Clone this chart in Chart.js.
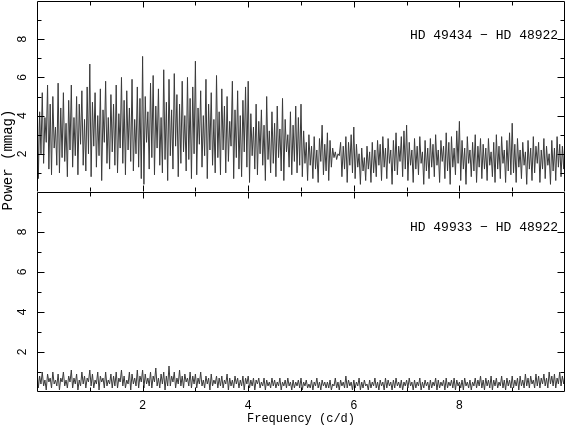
<!DOCTYPE html>
<html>
<head>
<meta charset="utf-8">
<script src="https://cdn.jsdelivr.net/npm/chart.js@4.4.1/dist/chart.umd.min.js"></script>
<style>
  html, body { margin: 0; padding: 0; background: #fff; }
  #wrap { position: relative; width: 566px; height: 427px; overflow: hidden; }
  canvas { position: absolute; left: 0; }
  #ylab {
    position: absolute; left: -92px; top: 152px; width: 200px; height: 16px;
    line-height: 16px; text-align: center;
    font: 14px "Liberation Mono", monospace; color: #000;
    transform: rotate(-90deg); transform-origin: 50% 50%;
  }
</style>
</head>
<body>
<div id="wrap">
  <canvas id="top-panel" width="566" height="192" style="top:0"></canvas>
  <canvas id="bot-panel" width="566" height="236" style="top:191px"></canvas>
  <div id="ylab">Power (mmag)</div>
</div>
<script>
// Frequency grid of the periodograms (c/d)
const FREQ_START = 0;
const FREQ_STEP = 0.025;

// HD 49434 − HD 48922, power in mmag, one row = 0.5 c/d
const POWER_49434 = [
  6.1, 0.7, 4.2, 2.0, 5.2, 1.5, 3.9, 2.6, 5.6, 1.2, 4.6, 0.9, 5.0, 2.3, 3.4, 1.4, 5.7, 1.0, 4.4, 1.8,
  5.2, 1.6, 3.6, 0.8, 4.8, 2.2, 5.6, 1.3, 3.9, 1.9, 5.0, 0.9, 4.6, 2.5, 5.3, 1.4, 3.8, 1.1, 5.5, 2.0,
  6.7, 0.8, 4.7, 2.4, 5.2, 1.3, 4.0, 1.9, 5.4, 0.6, 4.3, 2.6, 5.8, 1.5, 3.9, 1.2, 5.1, 2.1, 4.6, 1.4,
  5.6, 1.0, 4.1, 2.3, 6.0, 1.5, 4.8, 0.9, 5.3, 2.2, 4.4, 1.6, 5.9, 1.1, 3.8, 2.0, 5.5, 1.3, 4.9, 0.7,
  7.1, 0.4, 5.0, 2.6, 4.2, 1.2, 5.7, 1.8, 6.1, 0.9, 4.5, 2.3, 5.4, 1.4, 3.9, 1.0, 6.4, 1.7, 4.7, 0.6,
  5.9, 1.9, 4.3, 1.2, 6.2, 2.4, 5.1, 0.8, 4.6, 1.5, 5.8, 2.1, 4.0, 1.1, 6.0, 1.7, 4.9, 0.7, 5.5, 2.0,
  6.85, 0.9, 4.4, 2.5, 5.3, 1.3, 4.0, 1.9, 5.9, 0.7, 4.6, 2.2, 5.2, 1.4, 3.8, 1.0, 6.1, 1.8, 4.2, 0.9,
  5.4, 2.2, 4.5, 1.0, 5.0, 1.6, 3.7, 2.4, 5.8, 0.7, 4.3, 1.8, 5.3, 1.2, 4.0, 0.8, 4.8, 2.1, 5.5, 1.3,
  5.8, 0.5, 4.1, 1.9, 3.4, 1.2, 4.6, 0.9, 3.7, 2.0, 4.3, 1.4, 3.5, 0.6, 5.0, 1.7, 3.2, 1.0, 4.2, 1.5,
  3.6, 0.8, 4.5, 1.8, 3.3, 1.1, 4.9, 0.6, 3.8, 2.1, 3.0, 1.3, 4.2, 0.9, 3.5, 1.6, 4.5, 1.0, 3.9, 1.4,
  4.6, 0.8, 3.2, 1.5, 2.6, 0.6, 3.0, 1.4, 2.4, 0.7, 2.9, 1.2, 2.2, 0.5, 2.8, 1.6, 3.5, 0.9, 2.5, 1.1,
  3.1, 0.6, 2.7, 1.3, 2.3, 1.8, 2.1, 1.7, 2.0, 1.9, 2.6, 0.8, 2.4, 1.2, 2.9, 0.5, 2.6, 1.4, 3.0, 1.0,
  3.4, 0.7, 2.5, 1.3, 2.0, 0.4, 2.3, 1.1, 1.8, 0.6, 2.4, 1.2, 2.1, 0.5, 2.6, 1.0, 2.2, 0.8, 2.7, 1.4,
  2.5, 0.6, 2.9, 1.3, 2.3, 0.7, 2.8, 1.5, 2.2, 0.4, 2.7, 1.1, 3.1, 0.9, 2.4, 1.6, 2.9, 0.8, 3.2, 1.2,
  3.5, 0.6, 2.6, 1.4, 2.2, 0.5, 2.8, 1.2, 2.4, 0.9, 2.9, 1.5, 2.1, 0.4, 2.7, 1.1, 2.3, 0.7, 2.8, 1.3,
  2.5, 0.8, 3.0, 1.4, 2.2, 0.5, 2.7, 1.6, 2.4, 0.7, 3.1, 1.1, 2.6, 0.4, 2.9, 1.3, 2.3, 0.9, 3.2, 1.5,
  3.7, 0.6, 2.7, 1.2, 2.3, 0.4, 2.9, 1.5, 2.2, 0.8, 2.6, 1.1, 3.0, 0.5, 2.4, 1.3, 2.8, 0.7, 2.5, 1.2,
  2.3, 0.6, 2.8, 1.4, 2.1, 0.8, 2.6, 0.5, 3.0, 1.2, 2.4, 0.7, 2.9, 1.5, 2.2, 0.5, 2.7, 1.1, 3.1, 0.9,
  3.6, 1.0, 2.5, 0.5, 2.8, 1.3, 2.2, 0.7, 2.6, 1.4, 2.1, 0.4, 2.7, 1.2, 2.3, 0.6, 2.9, 1.0, 2.4, 1.5,
  2.6, 0.5, 2.2, 1.2, 2.8, 0.7, 2.4, 1.4, 2.0, 0.4, 2.7, 1.1, 2.3, 0.6, 2.9, 1.3, 2.5, 0.8, 2.4, 1.2,
  3.1
];

// HD 49933 − HD 48922
const POWER_49933 = [
  1.2, 0.2, 0.8, 0.4, 1.0, 0.3, 0.6, 0.1, 0.9, 0.5, 0.7, 0.2, 1.0, 0.4, 0.6, 0.3, 0.9, 0.1, 0.7, 0.5,
  1.0, 0.3, 0.6, 0.2, 0.8, 0.5, 1.1, 0.2, 0.7, 0.4, 0.9, 0.1, 0.6, 0.3, 1.0, 0.4, 0.8, 0.2, 0.7, 0.5,
  1.1, 0.3, 0.9, 0.2, 0.6, 0.4, 1.0, 0.1, 0.8, 0.5, 0.7, 0.2, 1.0, 0.3, 0.6, 0.4, 0.9, 0.2, 0.8, 0.3,
  1.0, 0.2, 0.7, 0.5, 1.1, 0.3, 0.8, 0.2, 0.6, 0.4, 1.0, 0.1, 0.9, 0.4, 0.7, 0.3, 1.1, 0.2, 0.8, 0.5,
  1.1, 0.2, 0.9, 0.4, 0.7, 0.3, 1.0, 0.2, 0.8, 0.5, 1.2, 0.3, 0.7, 0.2, 0.9, 0.4, 1.0, 0.1, 0.8, 0.3,
  1.3, 0.3, 0.8, 0.5, 1.0, 0.2, 0.7, 0.4, 1.1, 0.3, 0.8, 0.2, 0.9, 0.5, 0.7, 0.3, 1.0, 0.2, 0.8, 0.4,
  0.9, 0.2, 0.7, 0.4, 1.0, 0.3, 0.6, 0.2, 0.8, 0.4, 0.7, 0.1, 0.9, 0.3, 0.6, 0.4, 0.8, 0.2, 0.7, 0.3,
  0.8, 0.2, 0.6, 0.4, 0.9, 0.1, 0.7, 0.3, 0.6, 0.2, 0.8, 0.4, 0.7, 0.2, 0.6, 0.3, 0.8, 0.1, 0.7, 0.4,
  0.8, 0.2, 0.6, 0.3, 0.7, 0.1, 0.6, 0.4, 0.7, 0.2, 0.5, 0.3, 0.7, 0.1, 0.6, 0.3, 0.5, 0.2, 0.7, 0.3,
  0.6, 0.2, 0.5, 0.3, 0.7, 0.1, 0.5, 0.3, 0.6, 0.2, 0.7, 0.3, 0.5, 0.1, 0.6, 0.2, 0.5, 0.3, 0.6, 0.2,
  0.7, 0.1, 0.5, 0.3, 0.6, 0.2, 0.4, 0.2, 0.6, 0.1, 0.5, 0.3, 0.7, 0.2, 0.5, 0.1, 0.6, 0.3, 0.5, 0.2,
  0.5, 0.2, 0.6, 0.1, 0.4, 0.3, 0.7, 0.2, 0.5, 0.1, 0.6, 0.3, 0.5, 0.2, 0.8, 0.2, 0.6, 0.3, 0.5, 0.1,
  0.6, 0.2, 0.5, 0.3, 0.7, 0.1, 0.5, 0.2, 0.6, 0.3, 0.4, 0.1, 0.6, 0.2, 0.5, 0.3, 0.7, 0.2, 0.5, 0.1,
  0.6, 0.3, 0.5, 0.1, 0.7, 0.2, 0.6, 0.3, 0.5, 0.1, 0.6, 0.2, 0.7, 0.3, 0.5, 0.2, 0.6, 0.1, 0.5, 0.3,
  0.6, 0.2, 0.7, 0.3, 0.5, 0.1, 0.6, 0.2, 0.5, 0.3, 0.7, 0.1, 0.5, 0.2, 0.6, 0.3, 0.5, 0.1, 0.6, 0.2,
  0.5, 0.3, 0.7, 0.1, 0.6, 0.2, 0.5, 0.3, 0.6, 0.1, 0.7, 0.2, 0.5, 0.3, 0.6, 0.2, 0.7, 0.1, 0.6, 0.3,
  0.5, 0.2, 0.6, 0.1, 0.7, 0.3, 0.5, 0.2, 0.6, 0.1, 0.5, 0.3, 0.7, 0.2, 0.6, 0.3, 0.8, 0.2, 0.6, 0.1,
  0.7, 0.3, 0.6, 0.2, 0.8, 0.1, 0.6, 0.3, 0.7, 0.2, 0.5, 0.3, 0.8, 0.2, 0.6, 0.1, 0.7, 0.3, 0.6, 0.2,
  0.8, 0.2, 0.6, 0.3, 0.7, 0.1, 0.8, 0.3, 0.6, 0.2, 0.9, 0.3, 0.7, 0.2, 0.8, 0.4, 0.6, 0.2, 0.9, 0.3,
  0.8, 0.2, 0.7, 0.4, 0.9, 0.3, 0.7, 0.2, 1.0, 0.4, 0.8, 0.3, 0.9, 0.2, 0.7, 0.4, 1.0, 0.3, 0.8, 0.4,
  0.9
];

const PANEL_LABELS = ['HD 49434 \u2212 HD 48922', 'HD 49933 \u2212 HD 48922'];
const X_TICKS = [1, 2, 3, 4, 5, 6, 7, 8, 9];
const Y_TICKS = [1, 2, 3, 4, 5, 6, 7, 8, 9];
const Y_TICK_LABELS = [2, 4, 6, 8];
const FONT = '"Liberation Mono", monospace';

function toPoints(values) {
  return values.map((v, i) => ({ x: FREQ_START + i * FREQ_STEP, y: v }));
}

// Box + inward ticks on all four sides, sideways y labels, panel caption
const framePlugin = {
  id: 'frame',
  afterDraw(chart, args, opts) {
    const { ctx, chartArea: a, scales: { x, y } } = chart;
    const L = a.left + 0.5, R = a.right - 0.5, T = a.top + 0.5, B = a.bottom - 0.5;
    ctx.save();
    ctx.lineWidth = 1;
    ctx.strokeStyle = '#000';
    ctx.beginPath();
    ctx.moveTo(L, B); ctx.lineTo(L, T); ctx.lineTo(R, T); ctx.lineTo(R, B);
    if (opts.bottom) { ctx.moveTo(L, B); ctx.lineTo(R, B); }
    X_TICKS.forEach(v => {
      const px = Math.round(x.getPixelForValue(v)) + 0.5;
      const len = v % 2 === 0 ? 6 : 4;
      ctx.moveTo(px, T); ctx.lineTo(px, T + len);
      ctx.moveTo(px, B); ctx.lineTo(px, B - len);
    });
    Y_TICKS.forEach(v => {
      const py = Math.round(y.getPixelForValue(v)) + 0.5;
      const len = v % 2 === 0 ? 7 : 4;
      ctx.moveTo(L, py); ctx.lineTo(L + len, py);
      ctx.moveTo(R, py); ctx.lineTo(R - len, py);
    });
    ctx.stroke();

    ctx.fillStyle = '#000';
    ctx.textAlign = 'center';
    ctx.textBaseline = 'middle';
    ctx.font = '12px ' + FONT;
    Y_TICK_LABELS.forEach(v => {
      ctx.save();
      ctx.translate(a.left - 14, y.getPixelForValue(v));
      ctx.rotate(-Math.PI / 2);
      ctx.fillText(String(v), 0, 0);
      ctx.restore();
    });

    ctx.font = '13px ' + FONT;
    ctx.textAlign = 'right';
    ctx.fillText(opts.text, x.getPixelForValue(9.87), y.getPixelForValue(8.2));
    ctx.restore();
  }
};

function makePanel(canvasId, values, label, showX) {
  return new Chart(document.getElementById(canvasId), {
    type: 'line',
    data: {
      datasets: [{
        data: toPoints(values),
        borderColor: '#3a3a3a',
        borderWidth: 1,
        pointRadius: 0,
        tension: 0,
      }],
    },
    options: {
      responsive: false,
      animation: false,
      devicePixelRatio: 1,
      layout: { padding: { top: 1, right: 1, left: 0, bottom: 0 } },
      plugins: {
        legend: { display: false },
        tooltip: { enabled: false },
        frame: { text: label, bottom: showX },
      },
      scales: {
        x: {
          type: 'linear',
          min: 0,
          max: 10,
          display: showX,
          afterFit(s) { s.height = showX ? 35 : 0; s.paddingLeft = 0; s.paddingRight = 0; },
          grid: { display: false, drawTicks: false },
          border: { display: false },
          ticks: {
            stepSize: 2,
            autoSkip: false,
            maxRotation: 0,
            callback: v => (v > 0 && v < 10 ? v : ''),
            padding: 7,
            color: '#000',
            font: { family: FONT, size: 12 },
          },
          title: {
            display: true,
            text: 'Frequency (c/d)',
            color: '#000',
            font: { family: FONT, size: 12 },
            padding: { top: 0, bottom: 1 },
          },
        },
        y: {
          min: 0,
          max: 10,
          afterFit(s) { s.width = 37; s.paddingTop = 0; s.paddingBottom = 0; },
          grid: { display: false, drawTicks: false },
          border: { display: false },
          ticks: { display: false, stepSize: 2 },
        },
      },
    },
    plugins: [framePlugin],
  });
}

makePanel('top-panel', POWER_49434, PANEL_LABELS[0], false);
makePanel('bot-panel', POWER_49933, PANEL_LABELS[1], true);
</script>
</body>
</html>
